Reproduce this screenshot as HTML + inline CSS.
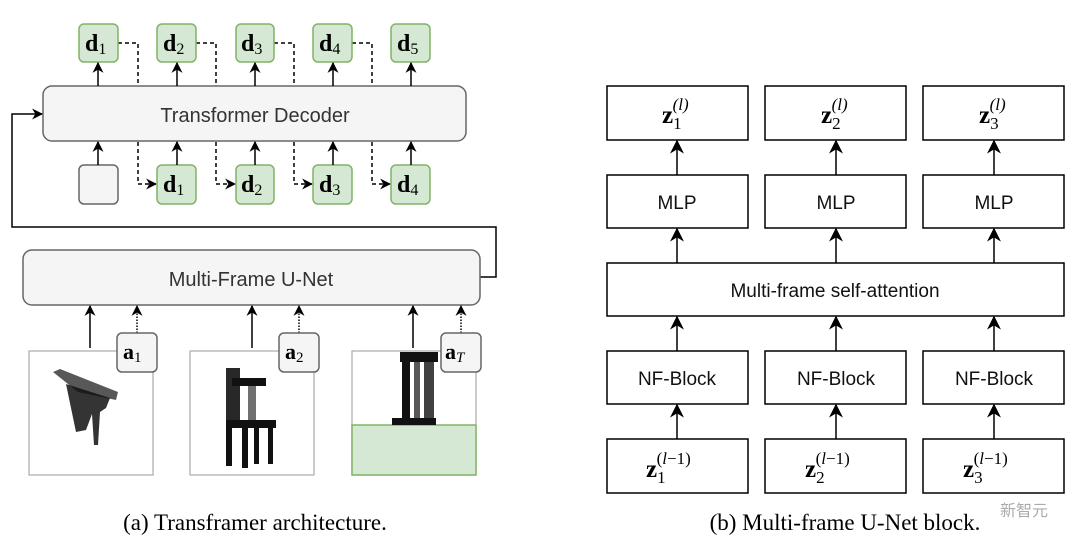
<!DOCTYPE html>
<html><head><meta charset="utf-8"><style>body{margin:0;background:#fff}svg{display:block}</style></head><body>
<svg width="1080" height="557" viewBox="0 0 1080 557" xmlns="http://www.w3.org/2000/svg">
<defs>
<marker id="ah" viewBox="0 0 10 10" refX="9" refY="5" markerWidth="11" markerHeight="11" markerUnits="userSpaceOnUse" orient="auto"><path d="M0,0 L10,5 L0,10 L3,5 z" fill="#000"/></marker>
<marker id="ah2" viewBox="0 0 10 10" refX="9" refY="5" markerWidth="14" markerHeight="14" markerUnits="userSpaceOnUse" orient="auto"><path d="M0,0 L10,5 L0,10 L3,5 z" fill="#000"/></marker>
</defs>
<!-- dashed connectors (behind decoder) -->
<g stroke="#000" stroke-width="1.5" fill="none" stroke-dasharray="4,3">
<path d="M118,43 H138 V184 H156" marker-end="url(#ah)"/>
<path d="M196,43 H216 V184 H235" marker-end="url(#ah)"/>
<path d="M274,43 H294 V184 H312" marker-end="url(#ah)"/>
<path d="M352,43 H372 V184 H390" marker-end="url(#ah)"/>
</g>
<g font-family="Liberation Serif, serif" font-weight="bold" font-size="24" fill="#000">
<g stroke="#82b366" stroke-width="1.5" fill="#d5e8d4">
<rect x="79" y="24" width="39" height="38" rx="5"/><rect x="157" y="24" width="39" height="38" rx="5"/><rect x="236" y="24" width="38" height="38" rx="5"/><rect x="313" y="24" width="39" height="38" rx="5"/><rect x="391" y="24" width="39" height="38" rx="5"/>
<rect x="157" y="165" width="39" height="39" rx="5"/><rect x="236" y="165" width="38" height="39" rx="5"/><rect x="313" y="165" width="39" height="39" rx="5"/><rect x="391" y="165" width="39" height="39" rx="5"/>
</g>
<rect x="79" y="165" width="39" height="39" rx="5" fill="#f5f5f5" stroke="#666" stroke-width="1.5"/>
<g>
<text x="85" y="51">d<tspan font-weight="normal" font-size="16" dy="3">1</tspan></text>
<text x="163" y="51">d<tspan font-weight="normal" font-size="16" dy="3">2</tspan></text>
<text x="241" y="51">d<tspan font-weight="normal" font-size="16" dy="3">3</tspan></text>
<text x="319" y="51">d<tspan font-weight="normal" font-size="16" dy="3">4</tspan></text>
<text x="397" y="51">d<tspan font-weight="normal" font-size="16" dy="3">5</tspan></text>
<text x="163" y="192">d<tspan font-weight="normal" font-size="16" dy="3">1</tspan></text>
<text x="241" y="192">d<tspan font-weight="normal" font-size="16" dy="3">2</tspan></text>
<text x="319" y="192">d<tspan font-weight="normal" font-size="16" dy="3">3</tspan></text>
<text x="397" y="192">d<tspan font-weight="normal" font-size="16" dy="3">4</tspan></text>
</g>
</g>
<rect x="43" y="86" width="423" height="55" rx="9" fill="#f5f5f5" stroke="#666" stroke-width="1.5"/>
<text x="255" y="122" text-anchor="middle" font-family="Liberation Sans, sans-serif" font-size="20" fill="#333">Transformer Decoder</text>
<g stroke="#000" stroke-width="1.5" fill="none">
<line x1="98" y1="86" x2="98" y2="63" marker-end="url(#ah)"/><line x1="177" y1="86" x2="177" y2="63" marker-end="url(#ah)"/><line x1="255" y1="86" x2="255" y2="63" marker-end="url(#ah)"/><line x1="333" y1="86" x2="333" y2="63" marker-end="url(#ah)"/><line x1="411" y1="86" x2="411" y2="63" marker-end="url(#ah)"/>
<line x1="98" y1="165" x2="98" y2="142" marker-end="url(#ah)"/><line x1="177" y1="165" x2="177" y2="142" marker-end="url(#ah)"/><line x1="255" y1="165" x2="255" y2="142" marker-end="url(#ah)"/><line x1="333" y1="165" x2="333" y2="142" marker-end="url(#ah)"/><line x1="411" y1="165" x2="411" y2="142" marker-end="url(#ah)"/>
<path d="M480,277 H496 V227 H12 V114 H42" marker-end="url(#ah)"/>
</g>
<rect x="23" y="250" width="457" height="55" rx="9" fill="#f5f5f5" stroke="#666" stroke-width="1.5"/>
<text x="251" y="286" text-anchor="middle" font-family="Liberation Sans, sans-serif" font-size="20" fill="#333">Multi-Frame U-Net</text>
<g stroke="#aaa" stroke-width="1.2" fill="#fff">
<rect x="29" y="351" width="124" height="124"/><rect x="190" y="351" width="124" height="124"/><rect x="352" y="351" width="124" height="124"/>
</g>
<rect x="352" y="425" width="124" height="50" fill="#d5e8d4" stroke="#82b366" stroke-width="1.5"/>
<g fill="#111">
<polygon points="53,372 60,369 118,392 116,400 78,392" opacity="0.7"/>
<polygon points="66,384 110,398 106,408 100,412 98,445 94,445 92,414 86,430 76,432" opacity="0.85"/>
<rect x="226" y="368" width="14" height="60" opacity="0.9"/><rect x="232" y="378" width="34" height="8"/><rect x="248" y="380" width="8" height="40" opacity="0.6"/><rect x="226" y="420" width="50" height="8"/><rect x="226" y="428" width="6" height="38"/><rect x="242" y="428" width="6" height="40"/><rect x="254" y="428" width="5" height="36"/><rect x="268" y="428" width="5" height="36"/>
<rect x="400" y="352" width="38" height="10"/><rect x="402" y="360" width="8" height="64"/><rect x="414" y="360" width="6" height="64" opacity="0.7"/><rect x="424" y="360" width="10" height="64" opacity="0.8"/><rect x="392" y="418" width="44" height="7"/>
</g>
<g stroke="#000" stroke-width="1.5">
<line x1="90" y1="348" x2="90" y2="306" marker-end="url(#ah)"/><line x1="252" y1="348" x2="252" y2="306" marker-end="url(#ah)"/><line x1="413" y1="348" x2="413" y2="306" marker-end="url(#ah)"/>
<g stroke-dasharray="1.5,1.5"><line x1="137" y1="333" x2="137" y2="306" marker-end="url(#ah)"/><line x1="299" y1="333" x2="299" y2="306" marker-end="url(#ah)"/><line x1="461" y1="333" x2="461" y2="306" marker-end="url(#ah)"/></g>
</g>
<g fill="#f5f5f5" stroke="#666" stroke-width="1.5">
<rect x="117" y="333" width="40" height="39" rx="5"/><rect x="279" y="333" width="40" height="39" rx="5"/><rect x="441" y="333" width="40" height="39" rx="5"/>
</g>
<g font-family="Liberation Serif, serif" font-size="22" font-weight="bold">
<text x="123" y="359">a<tspan font-weight="normal" font-size="15" dy="3">1</tspan></text>
<text x="285" y="359">a<tspan font-weight="normal" font-size="15" dy="3">2</tspan></text>
<text x="445" y="359">a<tspan font-weight="normal" font-style="italic" font-size="15" dy="3">T</tspan></text>
</g>
<text x="255" y="530" text-anchor="middle" font-family="Liberation Serif, serif" font-size="23">(a) Transframer architecture.</text>
<g fill="#fff" stroke="#000" stroke-width="1.5">
<rect x="607" y="86" width="141" height="54"/><rect x="765" y="86" width="141" height="54"/><rect x="923" y="86" width="141" height="54"/>
<rect x="607" y="175" width="141" height="53"/><rect x="765" y="175" width="141" height="53"/><rect x="923" y="175" width="141" height="53"/>
<rect x="607" y="263" width="457" height="53"/>
<rect x="607" y="351" width="141" height="53"/><rect x="765" y="351" width="141" height="53"/><rect x="923" y="351" width="141" height="53"/>
<rect x="607" y="439" width="141" height="54"/><rect x="765" y="439" width="141" height="54"/><rect x="923" y="439" width="141" height="54"/>
</g>
<g stroke="#000" stroke-width="1.5">
<line x1="677" y1="175" x2="677" y2="141" marker-end="url(#ah2)"/><line x1="836" y1="175" x2="836" y2="141" marker-end="url(#ah2)"/><line x1="994" y1="175" x2="994" y2="141" marker-end="url(#ah2)"/>
<line x1="677" y1="263" x2="677" y2="229" marker-end="url(#ah2)"/><line x1="836" y1="263" x2="836" y2="229" marker-end="url(#ah2)"/><line x1="994" y1="263" x2="994" y2="229" marker-end="url(#ah2)"/>
<line x1="677" y1="351" x2="677" y2="317" marker-end="url(#ah2)"/><line x1="836" y1="351" x2="836" y2="317" marker-end="url(#ah2)"/><line x1="994" y1="351" x2="994" y2="317" marker-end="url(#ah2)"/>
<line x1="677" y1="439" x2="677" y2="405" marker-end="url(#ah2)"/><line x1="836" y1="439" x2="836" y2="405" marker-end="url(#ah2)"/><line x1="994" y1="439" x2="994" y2="405" marker-end="url(#ah2)"/>
</g>
<g font-family="Liberation Sans, sans-serif" font-size="19" text-anchor="middle" fill="#111">
<text x="677" y="209">MLP</text><text x="836" y="209">MLP</text><text x="994" y="209">MLP</text>
<text x="835" y="297">Multi-frame self-attention</text>
<text x="677" y="385">NF-Block</text><text x="836" y="385">NF-Block</text><text x="994" y="385">NF-Block</text>
</g>
<g font-family="Liberation Serif, serif" font-size="25">
<text x="662" y="123" font-weight="bold">z<tspan font-weight="normal" font-size="17" dy="6">1</tspan><tspan font-weight="normal" font-size="17" font-style="italic" dx="-9" dy="-19">(l)</tspan></text>
<text x="821" y="123" font-weight="bold">z<tspan font-weight="normal" font-size="17" dy="6">2</tspan><tspan font-weight="normal" font-size="17" font-style="italic" dx="-9" dy="-19">(l)</tspan></text>
<text x="979" y="123" font-weight="bold">z<tspan font-weight="normal" font-size="17" dy="6">3</tspan><tspan font-weight="normal" font-size="17" font-style="italic" dx="-9" dy="-19">(l)</tspan></text>
<text x="646" y="477" font-weight="bold">z<tspan font-weight="normal" font-size="17" dy="6">1</tspan><tspan font-weight="normal" font-size="17" dx="-9" dy="-19">(<tspan font-style="italic">l</tspan>−1)</tspan></text>
<text x="805" y="477" font-weight="bold">z<tspan font-weight="normal" font-size="17" dy="6">2</tspan><tspan font-weight="normal" font-size="17" dx="-9" dy="-19">(<tspan font-style="italic">l</tspan>−1)</tspan></text>
<text x="963" y="477" font-weight="bold">z<tspan font-weight="normal" font-size="17" dy="6">3</tspan><tspan font-weight="normal" font-size="17" dx="-9" dy="-19">(<tspan font-style="italic">l</tspan>−1)</tspan></text>
</g>
<text x="845" y="530" text-anchor="middle" font-family="Liberation Serif, serif" font-size="23">(b) Multi-frame U-Net block.</text>
<text x="1000" y="516" font-family="Liberation Sans, Noto Sans CJK SC, sans-serif" font-size="16" fill="#888" opacity="0.7">新智元</text>
</svg>
</body></html>
